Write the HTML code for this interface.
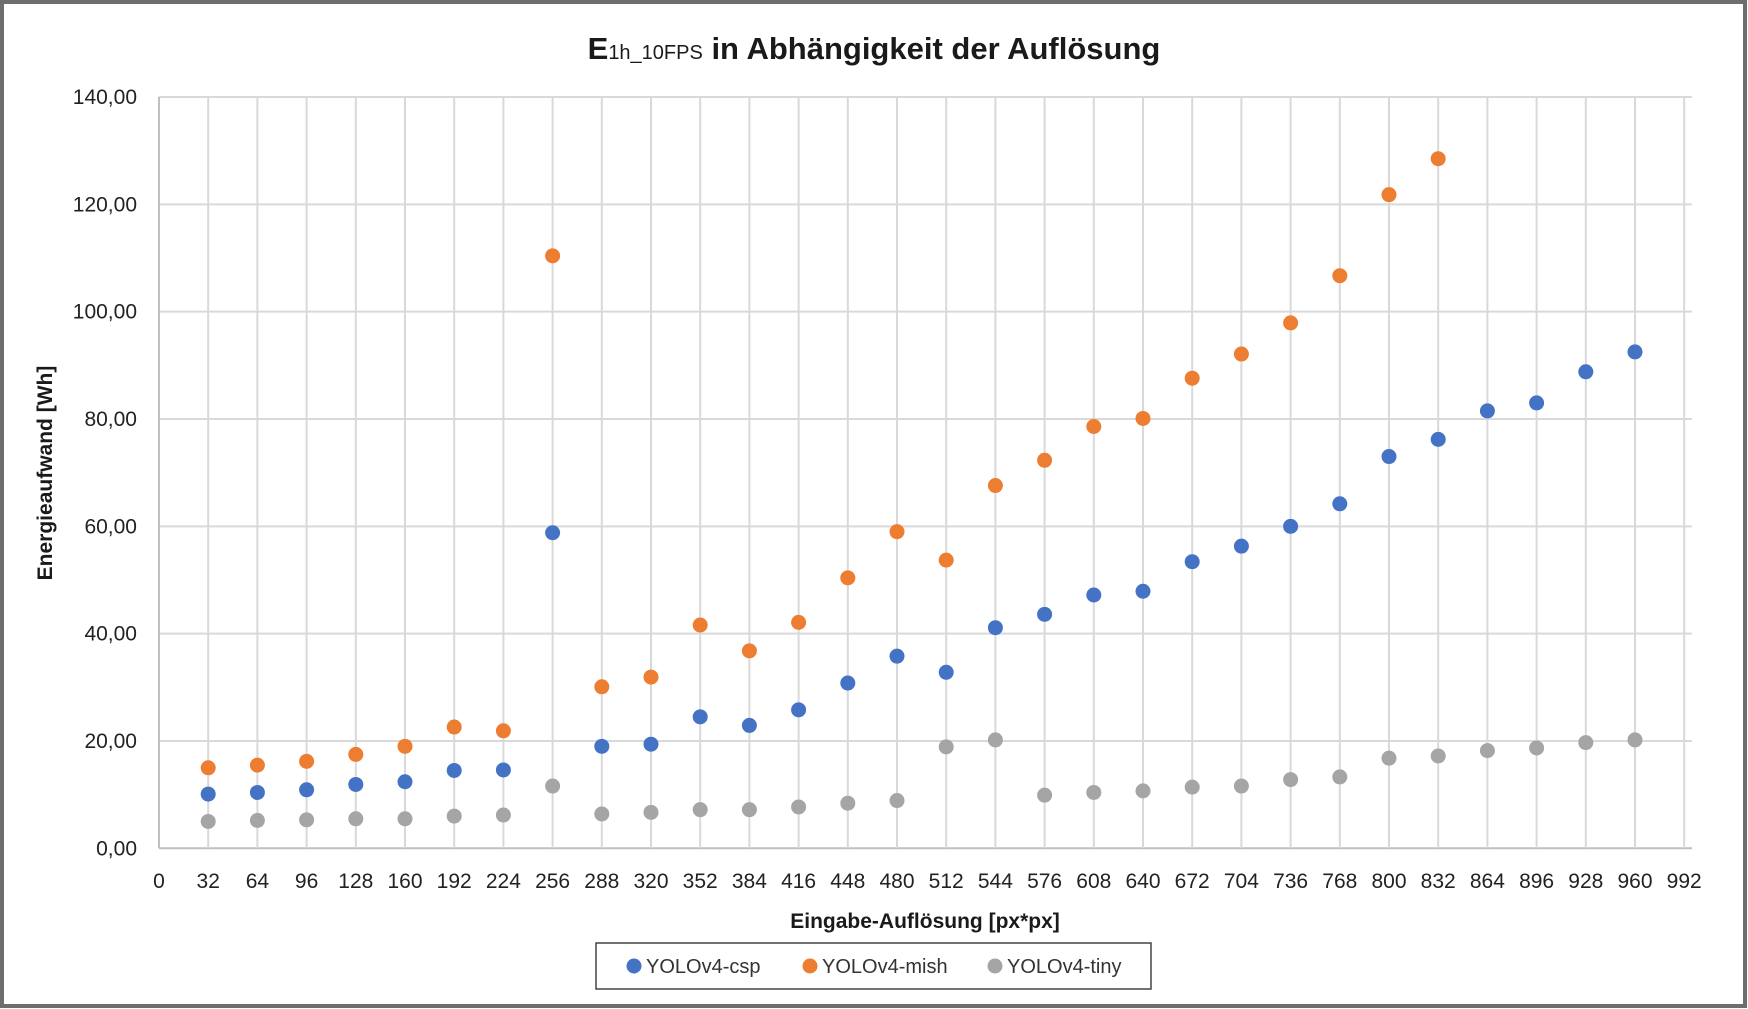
<!DOCTYPE html>
<html><head><meta charset="utf-8"><style>
body{margin:0;background:#fff;}
svg{display:block;font-family:"Liberation Sans",sans-serif;}
</style></head><body>
<svg id="c" width="1748" height="1009" viewBox="0 0 1748 1009">
<rect x="2" y="2" width="1743" height="1004" fill="#fff" stroke="#6e6e6e" stroke-width="4"/>
<text x="874" y="59" text-anchor="middle" font-size="31" font-weight="bold" fill="#1a1a1a">E<tspan font-size="20" font-weight="normal">1h_10FPS</tspan> in Abhängigkeit der Auflösung</text>
<g id="grid"></g><g id="marks"></g><g id="ticks"></g>
<text transform="translate(52,473) rotate(-90)" text-anchor="middle" font-size="21" font-weight="bold" fill="#1a1a1a">Energieaufwand [Wh]</text>
<text x="925" y="928" text-anchor="middle" font-size="21" font-weight="bold" fill="#1a1a1a">Eingabe-Auflösung [px*px]</text>
<g>
<rect x="596" y="943" width="555" height="46" fill="#fff" stroke="#444" stroke-width="1.5"/>
<g><circle cx="634" cy="966" r="7.5" fill="#4472C4"/><text x="646" y="973" font-size="20" fill="#333">YOLOv4-csp</text></g>
<g><circle cx="810" cy="966" r="7.5" fill="#ED7D31"/><text x="822" y="973" font-size="20" fill="#333">YOLOv4-mish</text></g>
<g><circle cx="995" cy="966" r="7.5" fill="#A5A5A5"/><text x="1007" y="973" font-size="20" fill="#333">YOLOv4-tiny</text></g>
</g>
</svg>
<script>
const xCats=[32,64,96,128,160,192,224,256,288,320,352,384,416,448,480,512,544,576,608,640,672,704,736,768,800,832,864,896,928,960];
const cspValues=[10.1,10.4,10.9,11.9,12.4,14.5,14.6,58.8,19.0,19.4,24.5,22.9,25.8,30.8,35.8,32.8,41.1,43.6,47.2,47.9,53.4,56.3,60.0,64.2,73.0,76.2,81.5,83.0,88.8,92.5];
const mishValues=[15.0,15.5,16.2,17.5,19.0,22.6,21.9,110.4,30.1,31.9,41.6,36.8,42.1,50.4,59.0,53.7,67.6,72.3,78.6,80.1,87.6,92.1,97.9,106.7,121.8,128.5];
const tinyValues=[5.0,5.2,5.3,5.5,5.5,6.0,6.2,11.6,6.4,6.7,7.2,7.2,7.7,8.4,8.9,18.9,20.2,9.9,10.4,10.7,11.4,11.6,12.8,13.3,16.8,17.2,18.2,18.7,19.7,20.2];
const xTicks=[0,32,64,96,128,160,192,224,256,288,320,352,384,416,448,480,512,544,576,608,640,672,704,736,768,800,832,864,896,928,960,992];
const yTicks=[0,20,40,60,80,100,120,140];
const yTickLabels=["0,00","20,00","40,00","60,00","80,00","100,00","120,00","140,00"];

const NS="http://www.w3.org/2000/svg";
const X0=159,XS=49.2/32,Y0=848.3,YS=(848.3-97)/140,XR=1692;
const xp=v=>X0+v*XS, yp=v=>Y0-v*YS;
function mk(p,tag,a){const e=document.createElementNS(NS,tag);for(const k in a)e.setAttribute(k,a[k]);p.appendChild(e);return e;}
const grid=document.getElementById('grid'),marks=document.getElementById('marks'),ticks=document.getElementById('ticks');
yTicks.forEach((t,i)=>{
  const l=mk(grid,'line',{x1:X0,x2:XR,y1:yp(t),y2:yp(t),stroke:t===0?'#bfbfbf':'#d9d9d9','stroke-width':2});
  
  
  const tx=mk(ticks,'text',{x:137,y:yp(t)+7,'text-anchor':'end','font-size':21,fill:'#222'});
  tx.textContent=yTickLabels[i];
  
  
});
xTicks.forEach(t=>{
  const l=mk(grid,'line',{x1:xp(t),x2:xp(t),y1:yp(140),y2:Y0,stroke:t===0?'#bfbfbf':'#d9d9d9','stroke-width':2});
  
  
  const tx=mk(ticks,'text',{x:xp(t),y:888,'text-anchor':'middle','font-size':21,fill:'#222'});
  tx.textContent=String(t);
  
  
});
function series(vals,color,name){
  vals.forEach((v,i)=>{
    const c=mk(marks,'circle',{cx:xp(xCats[i]),cy:yp(v),r:7.5,fill:color});
    
    
  });
}
series(tinyValues,'#A5A5A5','tiny');
series(cspValues,'#4472C4','csp');
series(mishValues,'#ED7D31','mish');
</script>
</body></html>
